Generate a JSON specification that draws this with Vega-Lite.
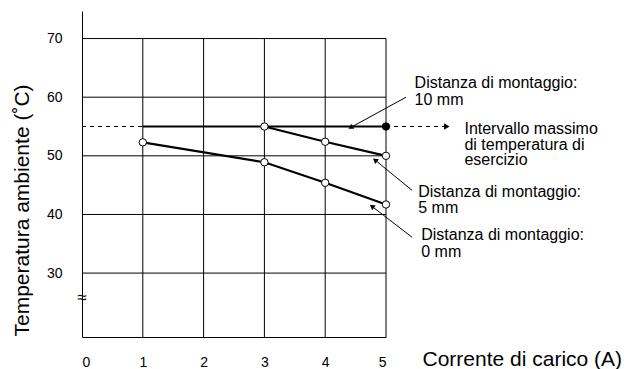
{
  "$schema": "https://vega.github.io/schema/vega-lite/v6.json",
  "autosize": "none",
  "width": 304,
  "height": 326,
  "padding": {"left": 82, "top": 11, "right": 243, "bottom": 32},
  "background": "white",
  "config": {
    "font": "Liberation Sans",
    "view": {"stroke": null},
    "axis": {"labelColor": "#000", "titleColor": "#000", "domainColor": "#000", "titleFontWeight": "normal"}
  },
  "datasets": {
    "vgrid": [{"x": 1}, {"x": 2}, {"x": 3}, {"x": 4}, {"x": 5}],
    "hgrid": [{"y": 30}, {"y": 40}, {"y": 50}, {"y": 60}, {"y": 70}],
    "limit": [{"x": 0, "x2": 6, "y": 55}],
    "series": [
      {"series": "10 mm", "x": 1, "y": 55, "marker": "none"},
      {"series": "10 mm", "x": 3, "y": 55, "marker": "none"},
      {"series": "10 mm", "x": 5, "y": 55, "marker": "filled"},
      {"series": "5 mm", "x": 3, "y": 55, "marker": "open"},
      {"series": "5 mm", "x": 4, "y": 52.4, "marker": "open"},
      {"series": "5 mm", "x": 5, "y": 50, "marker": "open"},
      {"series": "0 mm", "x": 1, "y": 52.3, "marker": "open"},
      {"series": "0 mm", "x": 3, "y": 48.9, "marker": "open"},
      {"series": "0 mm", "x": 4, "y": 45.4, "marker": "open"},
      {"series": "0 mm", "x": 5, "y": 41.7, "marker": "open"}
    ],
    "arrows": [
      {"id": "10", "x": 5.33, "y": 60.0, "x2": 4.43, "y2": 54.9},
      {"id": "5", "x": 5.43, "y": 44.1, "x2": 4.83, "y2": 49.2},
      {"id": "0", "x": 5.43, "y": 36.1, "x2": 4.78, "y2": 41.3},
      {"id": "lim", "x": 6, "y": 55, "x2": 6, "y2": 55}
    ],
    "labels": [
      {"x": 5.47, "y": 62.37, "text": "Distanza di montaggio:"},
      {"x": 5.47, "y": 59.47, "text": "10 mm"},
      {"x": 6.29, "y": 54.52, "text": "Intervallo massimo"},
      {"x": 6.29, "y": 51.88, "text": "di temperatura di"},
      {"x": 6.29, "y": 49.23, "text": "esercizio"},
      {"x": 5.53, "y": 43.77, "text": "Distanza di montaggio:"},
      {"x": 5.53, "y": 41.04, "text": "5 mm"},
      {"x": 5.58, "y": 36.43, "text": "Distanza di montaggio:"},
      {"x": 5.58, "y": 33.53, "text": "0 mm"}
    ],
    "brk": [{"x": 0, "y": 25.7, "text": "≈"}]
  },
  "encoding": {
    "x": {"type": "quantitative", "scale": {"domain": [0, 5], "nice": false, "zero": false},
      "axis": {"values": [0, 1, 2, 3, 4, 5], "ticks": false, "grid": false, "labelPadding": 18, "labelFontSize": 14,
        "domainWidth": 1, "title": "Corrente di carico (A)", "titleFontSize": 21, "titleX": 340, "titleY": 22,
        "titleAlign": "left", "titleBaseline": "middle", "titleAnchor": null}},
    "y": {"type": "quantitative", "scale": {"domain": [19.1, 74.7], "nice": false, "zero": false},
      "axis": {"values": [30, 40, 50, 60, 70], "ticks": false, "grid": false, "labelPadding": 20, "labelFontSize": 14,
        "domainWidth": 1, "title": "Temperatura ambiente (˚C)", "titleFontSize": 21, "titleX": -60, "titleY": 199,
        "titleAlign": "center", "titleBaseline": "middle", "titleAngle": -90}}
  },
  "layer": [
    {
      "data": {"name": "vgrid"},
      "mark": {"type": "rule", "color": "#000", "strokeWidth": 1},
      "encoding": {"x": {"field": "x", "type": "quantitative"}, "y": {"datum": 19.1}, "y2": {"datum": 70}}
    },
    {
      "data": {"name": "hgrid"},
      "mark": {"type": "rule", "color": "#000", "strokeWidth": 1},
      "encoding": {"y": {"field": "y", "type": "quantitative"}, "x": {"datum": 0}, "x2": {"datum": 5}}
    },
    {
      "data": {"name": "limit"},
      "mark": {"type": "rule", "color": "#000", "strokeWidth": 1, "strokeDash": [4, 4], "clip": false},
      "encoding": {"x": {"field": "x", "type": "quantitative"}, "x2": {"field": "x2"}, "y": {"field": "y", "type": "quantitative"}}
    },
    {
      "data": {"name": "series"},
      "mark": {"type": "line", "color": "#000", "strokeWidth": 2.2},
      "encoding": {"x": {"field": "x", "type": "quantitative"}, "y": {"field": "y", "type": "quantitative"}, "detail": {"field": "series"}}
    },
    {
      "data": {"name": "arrows"},
      "transform": [{"filter": "datum.id != 'lim'"}],
      "mark": {"type": "rule", "color": "#000", "strokeWidth": 1, "clip": false},
      "encoding": {"x": {"field": "x", "type": "quantitative"}, "y": {"field": "y", "type": "quantitative"}, "x2": {"field": "x2"}, "y2": {"field": "y2"}}
    },
    {
      "data": {"name": "series"},
      "transform": [{"filter": "datum.marker != 'none'"}],
      "mark": {"type": "point", "shape": "circle", "size": 55, "stroke": "#000", "strokeWidth": 1, "opacity": 1, "filled": true},
      "encoding": {"x": {"field": "x", "type": "quantitative"}, "y": {"field": "y", "type": "quantitative"},
        "fill": {"field": "marker", "type": "nominal", "scale": {"domain": ["open", "filled"], "range": ["#fff", "#000"]}, "legend": null}}
    },
    {
      "data": {"name": "arrows"},
      "transform": [{"filter": "datum.id == '10'"}],
      "mark": {"type": "point", "shape": "triangle", "angle": 241, "size": 35, "filled": true, "color": "#000", "opacity": 1, "clip": false},
      "encoding": {"x": {"field": "x2", "type": "quantitative"}, "y": {"field": "y2", "type": "quantitative"}}
    },
    {
      "data": {"name": "arrows"},
      "transform": [{"filter": "datum.id == '5' || datum.id == '0'"}],
      "mark": {"type": "point", "shape": "triangle", "angle": 308, "size": 35, "filled": true, "color": "#000", "opacity": 1, "clip": false},
      "encoding": {"x": {"field": "x2", "type": "quantitative"}, "y": {"field": "y2", "type": "quantitative"}}
    },
    {
      "data": {"name": "arrows"},
      "transform": [{"filter": "datum.id == 'lim'"}],
      "mark": {"type": "point", "shape": "triangle-right", "size": 40, "filled": true, "color": "#000", "opacity": 1, "clip": false},
      "encoding": {"x": {"field": "x2", "type": "quantitative"}, "y": {"field": "y2", "type": "quantitative"}}
    },
    {
      "data": {"name": "labels"},
      "mark": {"type": "text", "align": "left", "baseline": "middle", "fontSize": 16, "color": "#000", "clip": false},
      "encoding": {"x": {"field": "x", "type": "quantitative"}, "y": {"field": "y", "type": "quantitative"}, "text": {"field": "text"}}
    },
    {
      "data": {"name": "brk"},
      "mark": {"type": "text", "align": "center", "baseline": "middle", "fontSize": 17, "color": "#000", "clip": false},
      "encoding": {"x": {"field": "x", "type": "quantitative"}, "y": {"field": "y", "type": "quantitative"}, "text": {"field": "text"}}
    }
  ]
}
